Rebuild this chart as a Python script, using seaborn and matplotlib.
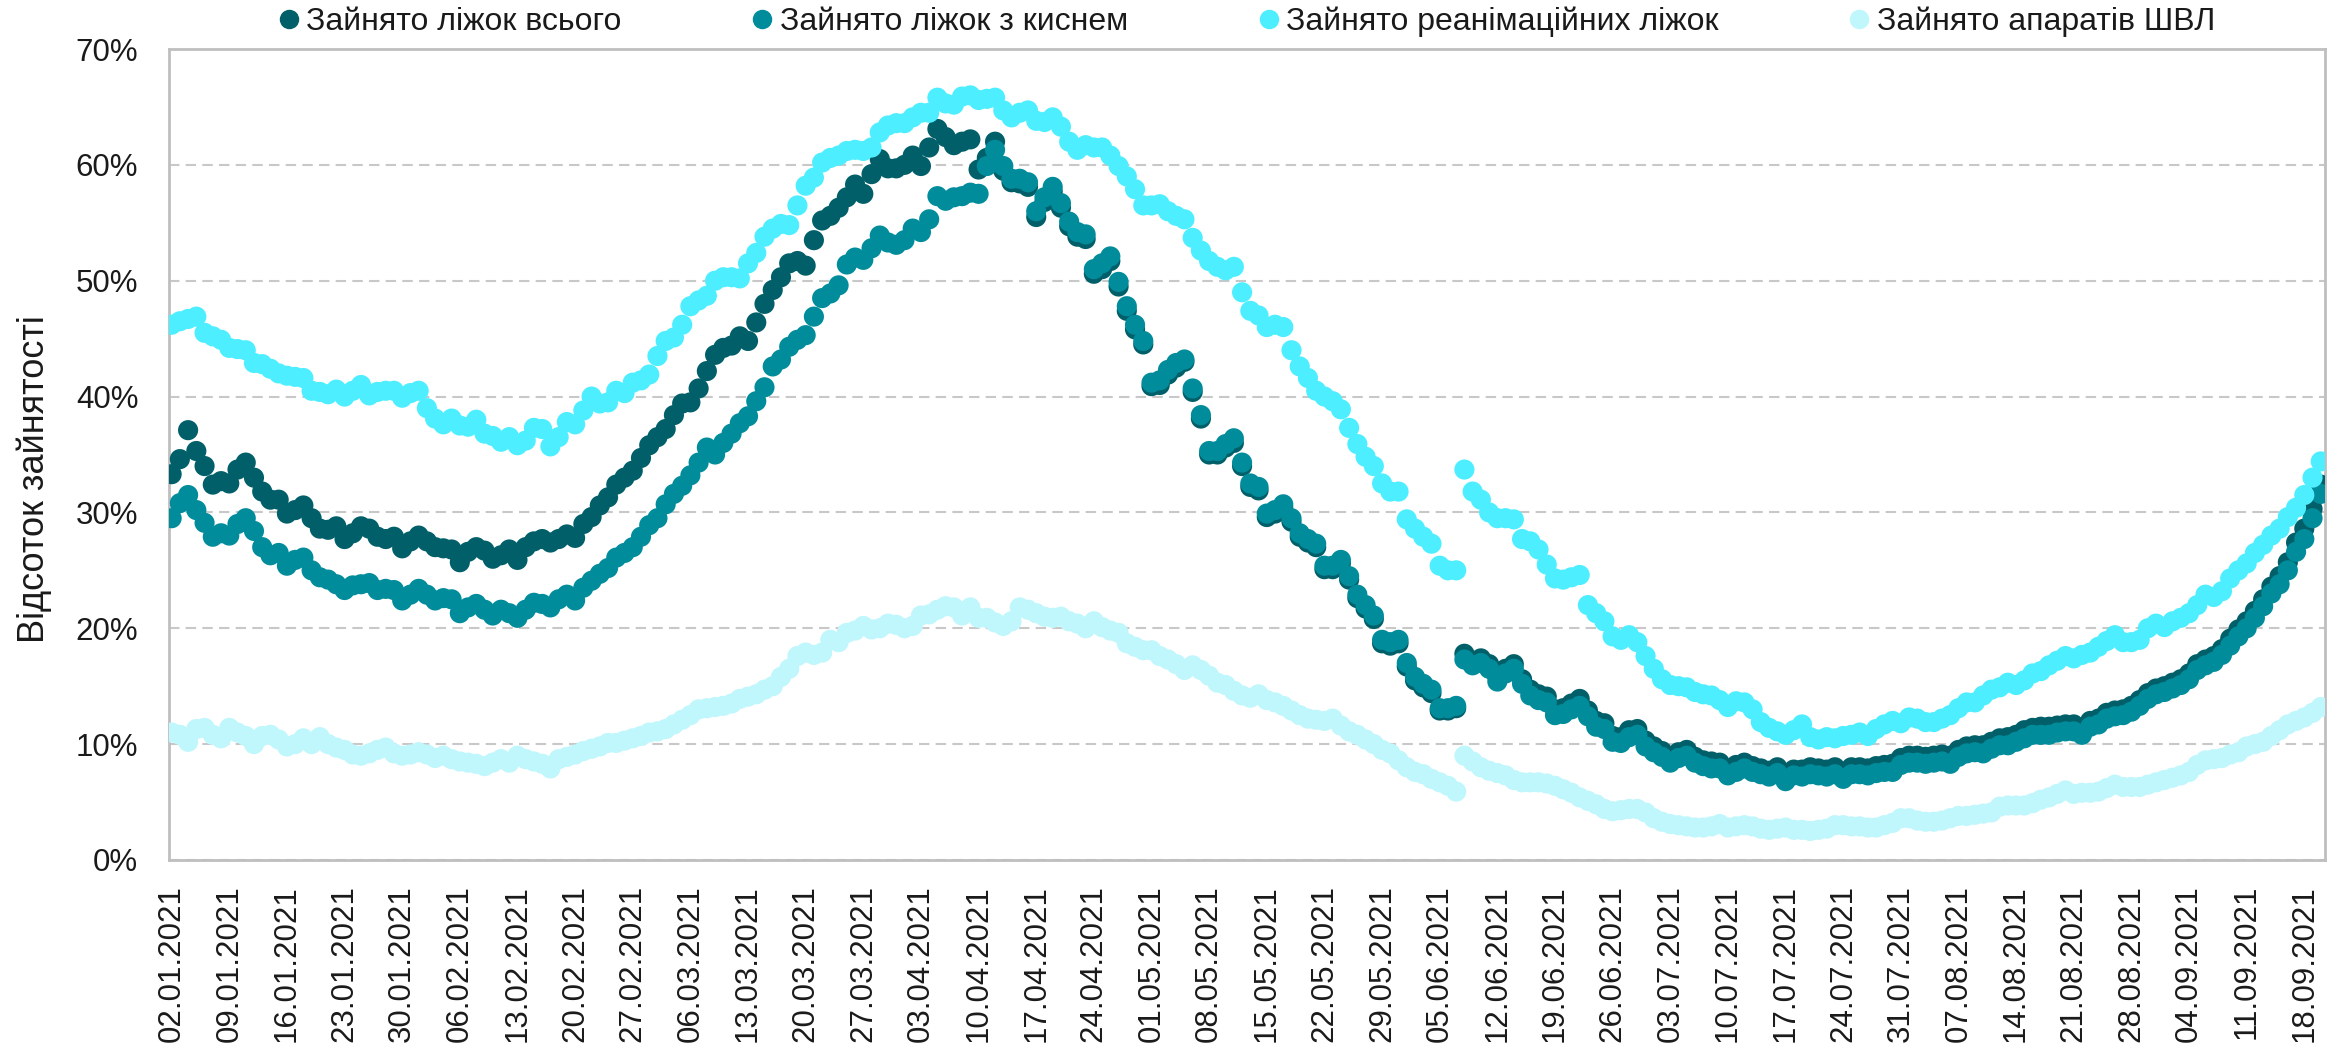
import matplotlib
matplotlib.use('Agg')
import matplotlib.pyplot as plt
import matplotlib.ticker as mticker
from matplotlib.lines import Line2D
import seaborn as sns
import pandas as pd

# daily values, % of capacity, starting 02.01.2021
start_date = '2021-01-02'
series_names = ['Зайнято ліжок всього', 'Зайнято ліжок з киснем',
                'Зайнято реанімаційних ліжок', 'Зайнято апаратів ШВЛ']
colors = ['#005F69', '#008C9B', '#4DEEFF', '#BFF7FC']

beds_total = [
    33.3, 34.6, 37.1, 35.3, 34.0, 32.4, 32.7, 32.5, 33.7, 34.3, 33.0, 31.8, 31.1, 31.1, 29.9, 30.2, 30.6,
    29.5, 28.6, 28.5, 28.8, 27.7, 28.2, 28.8, 28.6, 27.9, 27.7, 27.9, 26.9, 27.5, 28.0, 27.5, 27.0,
    26.9, 26.8, 25.7, 26.6, 27.0, 26.7, 26.0, 26.3, 26.8, 25.9, 27.0, 27.5, 27.7, 27.4, 27.7, 28.1, 27.8,
    29.0, 29.6, 30.6, 31.3, 32.4, 33.0, 33.6, 34.7, 35.8, 36.5, 37.2, 38.4, 39.4, 39.5, 40.7, 42.2,
    43.6, 44.2, 44.4, 45.2, 44.8, 46.4, 48.0, 49.2, 50.3, 51.5, 51.7, 51.3, 53.5, 55.2, 55.6, 56.3, 57.2,
    58.3, 57.5, 59.2, 60.5, 59.7, 59.7, 60.0, 60.8, 59.9, 61.5, 63.1, 62.4, 61.7, 62.0, 62.2, 59.6,
    60.6, 62.0, 59.5, 58.5, 58.4, 58.1, 55.5, 56.8, 57.7, 56.3, 54.7, 53.8, 53.6, 50.6, 51.0, 51.7, 49.5,
    47.4, 45.8, 44.5, 40.9, 41.0, 41.9, 42.5, 43.0, 40.4, 38.1, 35.0, 35.0, 35.6, 36.0, 34.0, 32.2,
    31.9, 29.6, 29.9, 30.4, 29.2, 27.9, 27.4, 27.0, 25.1, 25.1, 25.6, 24.2, 22.6, 21.7, 20.8, 18.7, 18.5,
    18.7, 16.7, 15.5, 14.9, 14.4, 12.9, 12.9, 13.1, 17.8, 17.2, 17.4, 16.9, 15.8, 16.5, 16.9, 15.6,
    14.7, 14.3, 14.1, 13.0, 13.1, 13.5, 13.9, 12.9, 12.0, 11.8, 10.7, 10.6, 11.2, 11.3, 10.3, 9.8, 9.4,
    8.9, 9.3, 9.5, 8.9, 8.6, 8.5, 8.4, 7.8, 8.2, 8.4, 8.1, 7.9, 7.7, 8.0, 7.3, 7.8,
    7.8, 8.0, 7.9, 7.8, 8.0, 7.6, 8.0, 8.0, 7.9, 8.1, 8.2, 8.3, 8.8, 9.0, 9.0, 8.9, 9.0,
    9.1, 9.0, 9.5, 9.8, 9.9, 9.9, 10.2, 10.5, 10.6, 10.8, 11.2, 11.4, 11.5, 11.5, 11.6, 11.7,
    11.7, 11.4, 12.0, 12.2, 12.7, 12.9, 13.0, 13.3, 13.8, 14.4, 14.8, 15.0, 15.3, 15.6, 16.1, 16.9,
    17.3, 17.6, 18.2, 19.1, 19.9, 20.6, 21.5, 22.5, 23.6, 24.5, 25.7, 27.4, 28.6, 30.3, 32.4,
]

beds_oxygen = [
    29.5, 30.8, 31.5, 30.2, 29.1, 27.9, 28.2, 28.0, 29.0, 29.5, 28.4, 27.0, 26.3, 26.5, 25.4, 25.9, 26.1,
    25.0, 24.4, 24.2, 23.8, 23.3, 23.7, 23.8, 23.9, 23.3, 23.4, 23.3, 22.4, 22.9, 23.4, 22.9, 22.4,
    22.6, 22.5, 21.3, 21.8, 22.1, 21.6, 21.1, 21.6, 21.3, 20.9, 21.6, 22.2, 22.1, 21.8, 22.5, 22.9, 22.4,
    23.5, 24.1, 24.7, 25.2, 26.1, 26.5, 27.0, 27.9, 28.9, 29.5, 30.7, 31.6, 32.3, 33.2, 34.3, 35.6,
    35.0, 36.0, 36.8, 37.7, 38.3, 39.6, 40.8, 42.6, 43.2, 44.3, 44.9, 45.3, 46.9, 48.5, 48.9, 49.6, 51.4,
    52.0, 51.8, 52.8, 53.9, 53.3, 53.1, 53.5, 54.5, 54.2, 55.3, 57.3, 56.9, 57.2, 57.3, 57.6, 57.5,
    59.9, 61.3, 59.9, 58.8, 58.8, 58.5, 56.0, 57.2, 58.1, 56.7, 55.1, 54.2, 54.0, 51.0, 51.5, 52.1, 49.9,
    47.8, 46.2, 44.8, 41.2, 41.4, 42.3, 42.9, 43.2, 40.7, 38.4, 35.3, 35.3, 35.9, 36.4, 34.3, 32.5,
    32.2, 29.9, 30.2, 30.7, 29.5, 28.2, 27.7, 27.3, 25.4, 25.4, 25.9, 24.5, 22.9, 22.0, 21.1, 19.0, 18.8,
    19.0, 17.0, 15.8, 15.2, 14.7, 13.1, 13.1, 13.3, 17.3, 16.8, 17.0, 16.5, 15.4, 16.1, 16.5, 15.2,
    14.2, 13.8, 13.6, 12.5, 12.6, 13.0, 13.3, 12.4, 11.5, 11.3, 10.2, 10.1, 10.6, 10.8, 9.8, 9.3, 8.9,
    8.4, 8.8, 9.0, 8.4, 8.1, 7.9, 7.9, 7.3, 7.6, 7.9, 7.6, 7.4, 7.2, 7.5, 6.8, 7.3,
    7.2, 7.4, 7.3, 7.2, 7.4, 7.0, 7.4, 7.4, 7.3, 7.5, 7.6, 7.6, 8.2, 8.4, 8.4, 8.3, 8.4,
    8.5, 8.3, 8.9, 9.2, 9.3, 9.2, 9.6, 9.9, 9.9, 10.2, 10.5, 10.8, 10.8, 10.8, 11.0, 11.1,
    11.1, 10.8, 11.5, 11.7, 12.2, 12.4, 12.5, 12.8, 13.3, 13.9, 14.3, 14.5, 14.8, 15.1, 15.6, 16.4,
    16.8, 17.1, 17.7, 18.5, 19.3, 20.0, 20.9, 21.9, 23.0, 23.8, 25.0, 26.6, 27.7, 29.5, 31.6,
]

beds_icu = [
    46.2, 46.5, 46.7, 46.9, 45.5, 45.2, 44.9, 44.2, 44.1, 44.0, 42.9, 42.8, 42.4, 42.0, 41.8, 41.7, 41.6,
    40.5, 40.4, 40.2, 40.6, 40.0, 40.5, 41.0, 40.1, 40.4, 40.5, 40.5, 39.9, 40.3, 40.5, 39.0, 38.1,
    37.6, 38.1, 37.5, 37.4, 38.0, 36.8, 36.6, 36.1, 36.5, 35.8, 36.2, 37.3, 37.2, 35.7, 36.5, 37.8, 37.6,
    38.8, 40.0, 39.4, 39.5, 40.5, 40.3, 41.2, 41.4, 41.9, 43.5, 44.8, 45.1, 46.2, 47.8, 48.3, 48.7,
    50.0, 50.3, 50.3, 50.2, 51.5, 52.4, 53.8, 54.5, 54.9, 54.8, 56.5, 58.2, 58.9, 60.2, 60.6, 60.8, 61.2,
    61.3, 61.2, 61.5, 62.8, 63.4, 63.6, 63.6, 64.1, 64.5, 64.5, 65.8, 65.3, 65.2, 65.9, 66.0, 65.6,
    65.7, 65.8, 64.7, 64.1, 64.5, 64.7, 63.8, 63.7, 64.1, 63.3, 62.0, 61.3, 61.7, 61.5, 61.5, 60.8, 59.9,
    59.0, 57.9, 56.5, 56.5, 56.6, 56.0, 55.6, 55.3, 53.7, 52.6, 51.7, 51.2, 50.9, 51.2, 49.0, 47.4,
    47.0, 46.0, 46.2, 46.0, 44.0, 42.6, 41.6, 40.5, 40.0, 39.6, 38.9, 37.3, 35.9, 34.8, 34.0, 32.5, 31.8,
    31.8, 29.4, 28.6, 27.9, 27.3, 25.4, 25.0, 25.0, 33.7, 31.8, 31.1, 30.0, 29.5, 29.5, 29.4, 27.7,
    27.5, 26.8, 25.5, 24.3, 24.2, 24.4, 24.6, 22.0, 21.3, 20.6, 19.3, 19.0, 19.4, 18.8, 17.6, 16.5, 15.6,
    15.1, 15.0, 14.9, 14.5, 14.3, 14.2, 13.8, 13.2, 13.7, 13.6, 13.0, 11.9, 11.4, 11.1, 10.8, 11.2,
    11.7, 10.6, 10.4, 10.6, 10.5, 10.7, 10.8, 11.0, 10.7, 11.3, 11.7, 12.0, 11.8, 12.3, 12.2, 11.9, 11.9,
    12.2, 12.5, 13.1, 13.6, 13.6, 14.2, 14.7, 14.9, 15.3, 15.1, 15.5, 16.1, 16.3, 16.8, 17.2, 17.6,
    17.4, 17.7, 17.9, 18.4, 18.9, 19.4, 18.8, 18.8, 19.0, 20.0, 20.4, 20.1, 20.6, 20.9, 21.3, 22.0,
    22.9, 22.7, 23.2, 24.3, 25.0, 25.6, 26.5, 27.2, 28.0, 28.6, 29.6, 30.4, 31.5, 33.0, 34.4,
]

ventilators = [
    11.0, 10.8, 10.2, 11.3, 11.4, 10.8, 10.5, 11.4, 11.0, 10.7, 10.0, 10.7, 10.8, 10.4, 9.8, 10.0, 10.5,
    10.0, 10.6, 10.0, 9.7, 9.5, 9.1, 9.0, 9.2, 9.5, 9.7, 9.2, 9.0, 9.1, 9.3, 9.1, 8.8,
    9.0, 8.7, 8.5, 8.4, 8.3, 8.1, 8.4, 8.7, 8.4, 9.0, 8.7, 8.5, 8.3, 7.9, 8.7, 8.9, 9.1,
    9.4, 9.6, 9.8, 10.1, 10.1, 10.3, 10.5, 10.7, 11.0, 11.1, 11.3, 11.7, 12.1, 12.5, 13.0, 13.1,
    13.2, 13.3, 13.5, 13.9, 14.1, 14.3, 14.7, 15.0, 15.8, 16.5, 17.6, 17.9, 17.7, 17.9, 19.0, 18.8, 19.6,
    19.8, 20.2, 19.9, 20.0, 20.4, 20.3, 20.0, 20.2, 21.1, 21.2, 21.6, 21.9, 21.8, 21.1, 21.8, 20.9,
    20.9, 20.5, 20.2, 20.6, 21.8, 21.6, 21.3, 21.0, 20.9, 21.0, 20.6, 20.4, 20.0, 20.6, 20.1, 19.8, 19.6,
    18.7, 18.4, 18.1, 18.1, 17.6, 17.3, 16.9, 16.4, 16.8, 16.4, 15.9, 15.3, 15.1, 14.6, 14.2, 14.0,
    14.3, 13.8, 13.6, 13.3, 12.9, 12.5, 12.2, 12.1, 12.0, 12.2, 11.6, 11.1, 10.8, 10.4, 10.0, 9.5, 9.2,
    8.6, 8.0, 7.6, 7.4, 7.0, 6.7, 6.4, 5.9, 9.0, 8.5, 8.0, 7.7, 7.5, 7.3, 6.9, 6.7,
    6.7, 6.7, 6.6, 6.4, 6.1, 5.8, 5.4, 5.1, 4.8, 4.4, 4.2, 4.3, 4.4, 4.4, 4.1, 3.6, 3.3,
    3.1, 3.0, 2.9, 2.8, 2.8, 2.9, 3.1, 2.8, 2.9, 3.0, 2.9, 2.7, 2.6, 2.7, 2.8, 2.6,
    2.6, 2.5, 2.6, 2.7, 3.0, 3.0, 2.9, 2.9, 2.8, 2.8, 3.0, 3.2, 3.6, 3.6, 3.4, 3.3, 3.3,
    3.4, 3.6, 3.8, 3.8, 3.9, 4.0, 4.1, 4.6, 4.7, 4.7, 4.7, 4.9, 5.2, 5.4, 5.7, 6.0,
    5.7, 5.8, 5.8, 5.9, 6.2, 6.5, 6.3, 6.3, 6.3, 6.5, 6.7, 6.9, 7.1, 7.3, 7.6, 8.2,
    8.6, 8.7, 8.8, 9.1, 9.3, 9.8, 10.0, 10.2, 10.7, 11.2, 11.7, 12.0, 12.3, 12.7, 13.2,
]

# long-form table, series order = drawing order
dates = pd.date_range(start_date, periods=len(beds_total), freq='D')
frames = []
for name, values in zip(series_names, [beds_total, beds_oxygen, beds_icu, ventilators]):
    frames.append(pd.DataFrame({'day': range(len(values)), 'value': values, 'series': name}))
data = pd.concat(frames, ignore_index=True)

sns.set_style('white')
plt.rcParams['font.family'] = ['Liberation Sans', 'DejaVu Sans']
text_color = '#1a1a1a'
grey = '#BFBFBF'

fig, ax = plt.subplots(figsize=(23.46, 10.43), dpi=100)
fig.subplots_adjust(left=0.072, right=0.991, top=0.953, bottom=0.1755)

sns.scatterplot(data=data, x='day', y='value', hue='series', hue_order=series_names,
                palette=colors, s=210, linewidth=0, legend=False, ax=ax, zorder=3)

ax.set_xlim(-0.33, 261.5)
ax.set_ylim(0, 70)

# y axis in percent, dashed grid
ax.yaxis.set_major_locator(mticker.MultipleLocator(10))
ax.yaxis.set_major_formatter(mticker.PercentFormatter(100, decimals=0))
ax.yaxis.grid(True, color='#C8C8C8', linestyle=(0, (5, 3)), linewidth=1.5)
ax.set_axisbelow(True)

# weekly date ticks
tick_pos = list(range(0, len(dates), 7))
ax.set_xticks(tick_pos)
ax.set_xticklabels(dates[tick_pos].strftime('%d.%m.%Y'), rotation=90)

ax.tick_params(axis='x', length=8, width=1.5, color=grey, pad=10, labelsize=22.5, labelcolor=text_color)
ax.tick_params(axis='y', length=0, pad=22, labelsize=22.5, labelcolor=text_color)

for side in ['left', 'right', 'top', 'bottom']:
    ax.spines[side].set_visible(True)
    ax.spines[side].set_color(grey)
    ax.spines[side].set_linewidth(2)

ax.set_xlabel('')
ax.set_ylabel('Відсоток зайнятості', fontsize=26, color=text_color)
ax.yaxis.set_label_coords(-0.054, 0.47)

handles = [Line2D([], [], marker='o', linestyle='', markersize=13, color=c) for c in colors]
fig.legend(handles, series_names, loc='center', bbox_to_anchor=(0.531, 0.979), ncol=4,
           frameon=False, fontsize=23, handlelength=0.8, handletextpad=0.15,
           columnspacing=4.0, labelcolor=text_color)

plt.savefig('out.png', dpi=100)
